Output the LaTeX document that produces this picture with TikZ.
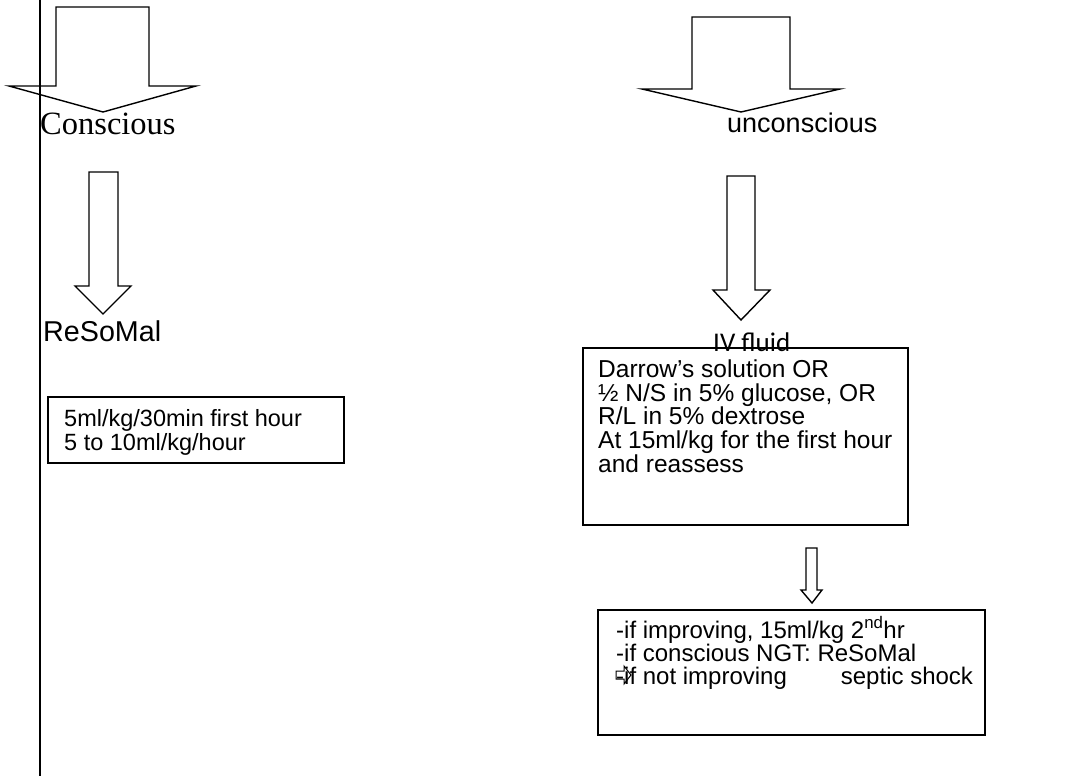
\documentclass[tikz,border=0pt]{standalone}
\usepackage{fontspec}
\setmainfont{Liberation Sans}
\newfontfamily\seriffont{Liberation Serif}
\newfontfamily\calfont{Carlito}
\newcommand\blockarrow[8]{%
  \draw[blk] (#1,#3) -- (#1,#4) -- (#5,#4) -- (#7,#8) -- (#6,#4) -- (#2,#4) -- (#2,#3) -- cycle;}
\begin{document}
\begin{tikzpicture}[x=1pt,y=-1pt,
  blk/.style={draw=black,line width=1.4pt,line join=miter},
  boxed/.style={draw=black,line width=1.6pt},
  vline/.style={draw=black,line width=2.4pt},
  lbl/.style={anchor=base west,inner sep=0pt},
  boxtxt/.style={anchor=base west,inner sep=0pt,font=\fontsize{24.5}{26}\selectfont}]
\useasboundingbox (0,0) rectangle (1087,779);
\fill[white] (0,0) rectangle (1087,779);
% left vertical rule
\draw[vline] (40,0) -- (40,776);
% block arrows
\blockarrow{56}{149}{7}{86}{9}{196}{103}{112}
\blockarrow{89}{118}{172}{286}{75}{131}{103}{314}
\blockarrow{692}{790}{17}{89}{642}{840}{741}{112}
\blockarrow{727}{755}{176}{290}{713}{770}{741}{320}
\blockarrow{806}{817}{548}{590}{801}{822}{812}{603}
% labels
\node[lbl,font=\seriffont\fontsize{32.5}{36}\selectfont] (cons) at (40,134) {Conscious};
\node[lbl,font=\fontsize{27}{30}\selectfont] (uncons) at (727,132) {unconscious};
\node[lbl,font=\fontsize{28.7}{30}\selectfont] (reso) at (43,341) {ReSoMal};
% boxes
\draw[boxed] (48,397) rectangle (344,463);
\draw[boxed] (583,348) rectangle (908,525);
\draw[boxed] (598,610) rectangle (985,735);
\node[lbl,font=\calfont\fontsize{27}{30}\selectfont] (ivf) at (713,351) {IV fluid};
% box 1 text
\node[boxtxt,font=\fontsize{23.5}{26}\selectfont] (b1a) at (64,426) {5ml/kg/30min first hour};
\node[boxtxt,font=\fontsize{23.5}{26}\selectfont] (b1b) at (64,450) {5 to 10ml/kg/hour};
% box 2 text
\node[boxtxt] (b2a) at (598,377) {Darrow’s solution OR};
\node[boxtxt] (b2b) at (598,401) {½ N/S in 5\% glucose, OR};
\node[boxtxt] (b2c) at (598,424) {R/L in 5\% dextrose};
\node[boxtxt] (b2d) at (598,448) {At 15ml/kg for the first hour};
\node[boxtxt] (b2e) at (598,472) {and reassess};
% box 3 text
\node[boxtxt,font=\fontsize{24}{26}\selectfont] (b3a) at (616,638) {-if improving, 15ml/kg 2\textsuperscript{nd}hr};
\node[boxtxt,font=\fontsize{24}{26}\selectfont] (b3b) at (616,661) {-if conscious NGT: ReSoMal};
\node[boxtxt,font=\fontsize{24}{26}\selectfont] (b3c) at (616,684) {-if not improving\hspace{54pt}septic shock};
% small outline arrow glyph over the start of the last line
\draw[line width=1pt,line join=miter] (616,671) -- (624,671) -- (624,666) -- (631,675) -- (624,684) -- (624,679) -- (616,679) -- cycle;
\end{tikzpicture}
\end{document}
